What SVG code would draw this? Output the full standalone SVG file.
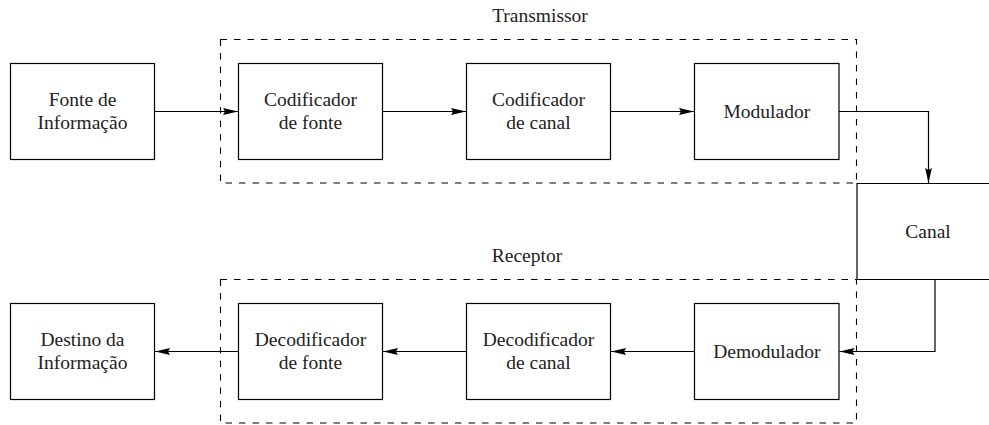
<svg xmlns="http://www.w3.org/2000/svg" width="989" height="425" viewBox="0 0 989 425">
<style>
.box{fill:#fff;stroke:#000;stroke-width:1.2}
.dash{fill:none;stroke:#000;stroke-width:1.1;stroke-dasharray:6.5 7}
.t{font-family:'Liberation Serif','Times New Roman',serif;font-size:19.5px;fill:#222;text-anchor:middle}
.c{fill:none;stroke:#000;stroke-width:1.2}
</style>
<defs>
<marker id="ah" markerUnits="userSpaceOnUse" markerWidth="16" markerHeight="8" refX="15" refY="4" orient="auto">
<path d="M0,0.6 L15,4 L0,7.4 L2,4 z" fill="#000"/>
</marker>
</defs>
<rect width="989" height="425" fill="#fff"/>
<g id="transmissor" font-family="Liberation Serif, serif">
<rect class="dash" x="220.5" y="39.5" width="636" height="143.5"/>
<text class="t" x="540" y="21.5">Transmissor</text>
</g>
<g id="receptor">
<rect class="dash" x="220.5" y="279.5" width="636" height="143.5"/>
<text class="t" x="527" y="261.5">Receptor</text>
</g>
<g id="fonte">
<rect class="box" x="10.5" y="63.5" width="144" height="96"/>
<text class="t" x="82.5" y="106">Fonte de</text>
<text class="t" x="82.5" y="129">Informação</text>
</g>
<g id="codfonte">
<rect class="box" x="238.5" y="63.5" width="144" height="96"/>
<text class="t" x="310.5" y="106">Codificador</text>
<text class="t" x="310.5" y="129">de fonte</text>
</g>
<g id="codcanal">
<rect class="box" x="466.5" y="63.5" width="144" height="96"/>
<text class="t" x="538.5" y="106">Codificador</text>
<text class="t" x="538.5" y="129">de canal</text>
</g>
<g id="modulador">
<rect class="box" x="694.5" y="63.5" width="144.5" height="96"/>
<text class="t" x="766.8" y="117.5">Modulador</text>
</g>
<g id="canal">
<path class="c" d="M989,183.5 H857 V279.5 H989"/>
<text class="t" x="928" y="237.5">Canal</text>
</g>
<g id="demodulador">
<rect class="box" x="694.5" y="303.5" width="144.5" height="96"/>
<text class="t" x="766.8" y="357.5">Demodulador</text>
</g>
<g id="deccanal">
<rect class="box" x="466.5" y="303.5" width="144" height="96"/>
<text class="t" x="538.5" y="346">Decodificador</text>
<text class="t" x="538.5" y="369">de canal</text>
</g>
<g id="decfonte">
<rect class="box" x="238.5" y="303.5" width="144" height="96"/>
<text class="t" x="310.5" y="346">Decodificador</text>
<text class="t" x="310.5" y="369">de fonte</text>
</g>
<g id="destino">
<rect class="box" x="10.5" y="303.5" width="144" height="96"/>
<text class="t" x="82.5" y="346">Destino da</text>
<text class="t" x="82.5" y="369">Informação</text>
</g>
<g id="connectors">
<path class="c" d="M154.5,111.5 H238" marker-end="url(#ah)"/>
<path class="c" d="M382.5,111.5 H466" marker-end="url(#ah)"/>
<path class="c" d="M610.5,111.5 H694" marker-end="url(#ah)"/>
<path class="c" d="M839,111.5 H928.5 V183" marker-end="url(#ah)"/>
<path class="c" d="M935,279.5 V351.5 H839.5" marker-end="url(#ah)"/>
<path class="c" d="M694.5,351.5 H611" marker-end="url(#ah)"/>
<path class="c" d="M466.5,351.5 H383" marker-end="url(#ah)"/>
<path class="c" d="M238.5,351.5 H155" marker-end="url(#ah)"/>
</g>
</svg>
